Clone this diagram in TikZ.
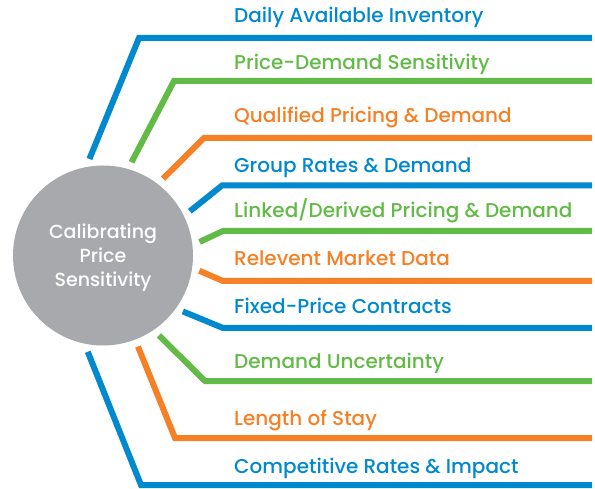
\documentclass[tikz,border=0pt]{standalone}
\usepackage{fontspec}
\IfFontExistsTF{Poppins Medium}{\setmainfont{Poppins Medium}}{\setmainfont{Poppins}[FakeBold=1.2]}
\definecolor{cblue}{HTML}{0089CF}
\definecolor{cgreen}{HTML}{62BB46}
\definecolor{corange}{HTML}{F58025}
\definecolor{cgray}{HTML}{A7A9AC}
\begin{document}
\begin{tikzpicture}[x=1pt,y=-1pt,
  spoke/.style={line width=6pt, line join=miter},
  lab/.style={anchor=base west, inner sep=0pt, font=\fontsize{20}{22}\selectfont},
]
\useasboundingbox (0,0) rectangle (595,489);
\fill[white] (0,0) rectangle (595,489);

% central hub
\node[circle, fill=cgray, minimum size=180pt, inner sep=0pt, outer sep=7.5pt] (hub) at (103,255.5) {};
\node[text=white, align=center, inner sep=0pt,
      font=\fontsize{19}{24}\selectfont] (hubtext) at (103,257.5) {Calibrating\\Price\\Sensitivity};

% bend points and free ends of the spokes
\coordinate (c1) at (139,38);   \coordinate (e1) at (592,38);
\coordinate (c2) at (174,81);   \coordinate (e2) at (592,81);
\coordinate (c3) at (204,138);  \coordinate (e3) at (592,138);
\coordinate (c4) at (222,185.5);\coordinate (e4) at (592,185.5);
\coordinate (c5) at (223,231);  \coordinate (e5) at (592,231);
\coordinate (c6) at (223,281);  \coordinate (e6) at (592,281);
\coordinate (c7) at (223,328);  \coordinate (e7) at (592,328);
\coordinate (c8) at (205,381);  \coordinate (e8) at (592,381);
\coordinate (c9) at (175,438);  \coordinate (e9) at (592,438);
\coordinate (c10) at (141,485); \coordinate (e10) at (592,485);

% spokes
\draw[spoke, cblue]   (hub.98.9)  -- (c1)  -- (e1);
\draw[spoke, cgreen]  (hub.73.9)  -- (c2)  -- (e2);
\draw[spoke, corange] (hub.52.3)  -- (c3)  -- (e3);
\draw[spoke, cblue]   (hub.27.1)  -- (c4)  -- (e4);
\draw[spoke, cgreen]  (hub.8.5)   -- (c5)  -- (e5);
\draw[spoke, corange] (hub.-9.1)  -- (c6)  -- (e6);
\draw[spoke, cblue]   (hub.-35.2) -- (c7)  -- (e7);
\draw[spoke, cgreen]  (hub.-55.0) -- (c8)  -- (e8);
\draw[spoke, corange] (hub.-69.6) -- (c9)  -- (e9);
\draw[spoke, cblue]   (hub.-99.6) -- (c10) -- (e10);

% labels
\node[lab, text=cblue]   (l1)  at (234,23)  {Daily Available Inventory};
\node[lab, text=cgreen]  (l2)  at (234,70)  {Price-Demand Sensitivity};
\node[lab, text=corange] (l3)  at (234,123) {Qualified Pricing \& Demand};
\node[lab, text=cblue]   (l4)  at (234,173) {Group Rates \& Demand};
\node[lab, text=cgreen]  (l5)  at (234,218) {Linked/Derived Pricing \& Demand};
\node[lab, text=corange] (l6)  at (234,266) {Relevent Market Data};
\node[lab, text=cblue]   (l7)  at (234,314) {Fixed-Price Contracts};
\node[lab, text=cgreen]  (l8)  at (234,368) {Demand Uncertainty};
\node[lab, text=corange] (l9)  at (234,425) {Length of Stay};
\node[lab, text=cblue]   (l10) at (234,473) {Competitive Rates \& Impact};
\end{tikzpicture}
\end{document}
